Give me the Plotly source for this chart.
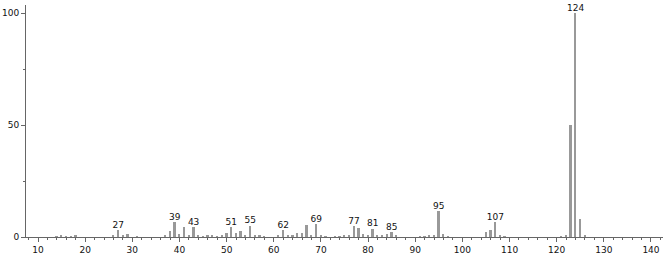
import plotly.graph_objects as go

mz = [14, 15, 16, 17, 18, 26, 27, 28, 29, 31, 37, 38, 39, 40, 41, 42, 43, 44, 45, 46,
      47, 48, 49, 50, 51, 52, 53, 54, 55, 56, 57, 58, 61, 62, 63, 64, 65, 66, 67, 68,
      69, 70, 71, 73, 74, 75, 76, 77, 78, 79, 80, 81, 82, 83, 84, 85, 86, 91, 92, 93,
      94, 95, 96, 97, 105, 106, 107, 108, 109, 121, 122, 123, 124, 125, 126]
intensity = [0.4, 0.5, 0.3, 0.4, 0.5, 0.7, 3.2, 0.6, 1.3, 0.3, 0.9, 2.8, 6.5, 1.2, 4.4, 1.0, 4.4, 0.6, 0.4, 0.5,
             0.6, 0.4, 0.6, 2.0, 4.4, 1.8, 2.5, 1.1, 5.1, 0.6, 0.7, 0.3, 0.5, 3.2, 1.1, 1.0, 1.8, 1.8, 5.3, 0.8,
             5.9, 0.5, 0.3, 0.3, 0.4, 0.5, 0.6, 4.7, 4.1, 1.3, 0.7, 3.8, 0.7, 1.1, 1.2, 2.2, 0.5, 0.3, 0.4, 0.5,
             0.8, 11.5, 1.5, 0.4, 2.1, 3.1, 6.6, 0.6, 0.4, 0.4, 0.6, 50.0, 100.0, 8.1, 0.5]
labeled_mz = [27, 39, 43, 51, 55, 62, 69, 77, 81, 85, 95, 107, 124]
x_tick_vals = list(range(10, 150, 10))
y_tick_vals = [0, 50, 100]

lookup = dict(zip(mz, intensity))
label_y = [lookup[m] for m in labeled_mz]

fig = go.Figure()
fig.add_trace(go.Bar(x=mz, y=intensity, width=0.38,
                     marker=dict(color="#999999", line=dict(width=0)),
                     hoverinfo="x+y"))
fig.add_trace(go.Scatter(x=labeled_mz, y=label_y, mode="text",
                         text=[str(m) for m in labeled_mz],
                         textposition="top center", cliponaxis=False,
                         textfont=dict(family="DejaVu Sans", size=9, color="#111"),
                         hoverinfo="skip"))

fig.update_layout(
    width=666, height=254,
    margin=dict(l=26, r=3, t=5, b=17),
    paper_bgcolor="white", plot_bgcolor="white",
    showlegend=False, bargap=0,
    font=dict(family="DejaVu Sans", size=9, color="#111"),
)
fig.update_xaxes(range=[7.45, 142.55], tickvals=x_tick_vals, automargin=False,
                 ticks="outside", ticklen=4, tickcolor="#666", tickwidth=1,
                 minor=dict(dtick=2, tick0=0, ticks="outside", ticklen=2, tickcolor="#666"),
                 showline=True, linecolor="#666", linewidth=1,
                 showgrid=False, zeroline=False,
                 tickfont=dict(family="DejaVu Sans", size=9, color="#111"))
fig.update_yaxes(range=[0, 103.7], tickvals=y_tick_vals, automargin=False,
                 ticks="outside", ticklen=4, tickcolor="#666", tickwidth=1,
                 minor=dict(tickvals=[25, 75], ticks="outside", ticklen=2, tickcolor="#666"),
                 showline=True, linecolor="#666", linewidth=1,
                 showgrid=False, zeroline=False,
                 tickfont=dict(family="DejaVu Sans", size=9, color="#111"))

fig.write_html("out.html")
